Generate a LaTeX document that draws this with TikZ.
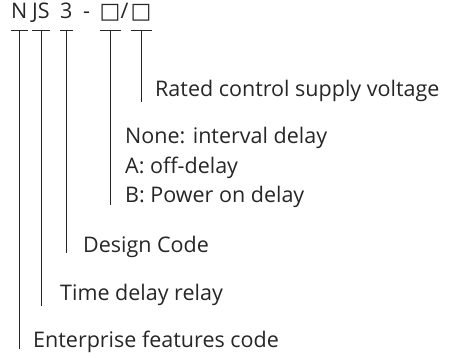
\documentclass[tikz,border=0pt]{standalone}
\usepackage{fontspec}
\setmainfont{Open Sans}
\newfontfamily\symfont{DejaVu Sans}
\definecolor{ink}{HTML}{262626}
\begin{document}
\begin{tikzpicture}[x=1pt,y=-1pt,
  lbl/.style={anchor=base west,inner sep=0pt,text=ink,font=\fontsize{21.5}{24}\selectfont},
  code/.style={anchor=base west,inner sep=0pt,text=ink,font=\fontsize{21.5}{24}\selectfont},
  lead/.style={draw=ink,line width=0.9pt}]
\useasboundingbox (0,0) rectangle (459,358);
% code parts
\node[code] (cN) at (11,19) {N};
\node[code] (cJS) at (32,19) {JS};
\node[code] (c3) at (60,19) {3};
\node[code] (cdash) at (83,19) {-};
\node[code] (cb1) at (99.5,19) {{\symfont\fontsize{22}{24}\selectfont □}};
\node[code] (cslash) at (120.5,19) {/};
\node[code] (cb2) at (130.5,19) {{\symfont\fontsize{22}{24}\selectfont □}};
% labels
\node[lbl] (rated) at (155,97) {Rated control supply voltage};
\node[lbl] (none) at (125,144) {None: interval delay};
\node[lbl] (offd) at (125,173.5) {A: off-delay};
\node[lbl] (pond) at (125,203) {B: Power on delay};
\node[lbl] (design) at (83,253) {Design Code};
\node[lbl] (tdr) at (60,301) {Time delay relay};
\node[lbl] (ent) at (33,348) {Enterprise features code};
% bars
\foreach \n in {cN,cJS,c3,cb1,cb2}{
  \coordinate (\n-l) at (\n.west |- 0,30);
  \coordinate (\n-r) at (\n.east |- 0,30);
  \coordinate (\n-t) at (\n.center |- 0,30);
  \draw[lead] (\n-l) -- (\n-r);
}
\draw[lead] (cN-t) -- ([yshift=-1pt]cN-t |- ent.base);
\draw[lead] (cJS-t) -- ([yshift=-5pt]cJS-t |- tdr.base);
\draw[lead] (c3-t) -- (c3-t |- design.base);
\draw[lead] (cb1-t) -- ([yshift=-2pt]cb1-t |- pond.base);
\draw[lead] (cb2-t) -- ([yshift=-5pt]cb2-t |- rated.base);
\end{tikzpicture}
\end{document}
